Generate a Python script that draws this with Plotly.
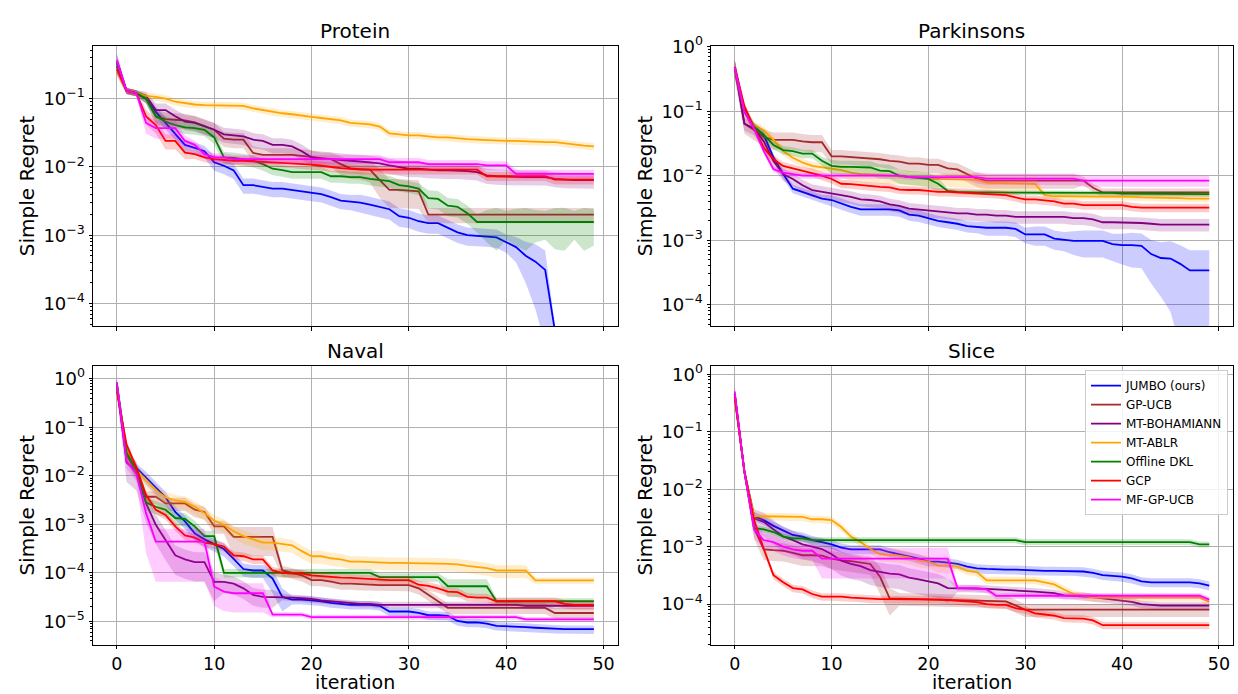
import plotly.graph_objects as go

# ---------------- data ----------------
ITERATIONS = list(range(50))
METHODS = ["JUMBO (ours)", "GP-UCB", "MT-BOHAMIANN", "MT-ABLR", "Offline DKL", "GCP", "MF-GP-UCB"]
COLORS = ["#0000ff", "#a52a2a", "#800080", "#ffa500", "#008000", "#ff0000", "#ff00ff"]
BAND_COLORS = ["rgba(0,0,255,0.2)", "rgba(165,42,42,0.2)", "rgba(128,0,128,0.2)", "rgba(255,165,0,0.2)",
               "rgba(0,128,0,0.2)", "rgba(255,0,0,0.2)", "rgba(255,0,255,0.2)"]
PANEL_TITLES = ["Protein", "Parkinsons", "Naval", "Slice"]
X_TICKS = [0, 10, 20, 30, 40, 50]

# ---- Protein: mean simple regret ----
protein_jumbo = [0.33, 0.13, 0.12, 0.10, 0.064, 0.044, 0.031, 0.021, 0.019, 0.017,
                 0.0117, 0.0104, 0.0089, 0.0054, 0.0054, 0.0051, 0.0048, 0.0048, 0.0046, 0.0044,
                 0.0042, 0.0040, 0.0036, 0.0032, 0.0031, 0.0030, 0.0028, 0.0026, 0.0024, 0.0019,
                 0.0018, 0.0016, 0.0015, 0.0015, 0.0013, 0.0011, 0.0010, 0.00098, 0.00097, 0.00093,
                 0.00079, 0.00067, 0.00050, 0.00041, 0.00031, 0.00004, None, None, None, None]
protein_gpucb = [0.30, 0.13, 0.12, 0.10, 0.055, 0.050, 0.049, 0.048, 0.045, 0.040,
                 0.035, 0.026, 0.025, 0.025, 0.016, 0.015, 0.015, 0.015, 0.015, 0.0145,
                 0.014, 0.0135, 0.013, 0.011, 0.0095, 0.0093, 0.0091, 0.0064, 0.0046, 0.0046,
                 0.0045, 0.0044, 0.0020, 0.0020, 0.0020, 0.0020, 0.0020, 0.0020, 0.0020, 0.0020,
                 0.0020, 0.0020, 0.0020, 0.0020, 0.0020, 0.0020, 0.0020, 0.0020, 0.0020, 0.0020]
protein_bohamiann = [0.36, 0.13, 0.12, 0.11, 0.068, 0.068, 0.055, 0.046, 0.044, 0.039,
                     0.035, 0.030, 0.029, 0.028, 0.025, 0.024, 0.021, 0.021, 0.020, 0.017,
                     0.0138, 0.013, 0.013, 0.0125, 0.0123, 0.0120, 0.0117, 0.0113, 0.0105, 0.0099,
                     0.0094, 0.0094, 0.0091, 0.0089, 0.0089, 0.0089, 0.0087, 0.0084, 0.0075, 0.0073,
                     0.0072, 0.0071, 0.0071, 0.0071, 0.0071, 0.0067, 0.0065, 0.0064, 0.0064, 0.0064]
protein_ablr = [0.27, 0.13, 0.12, 0.11, 0.106, 0.10, 0.090, 0.085, 0.082, 0.080,
                0.080, 0.080, 0.080, 0.078, 0.072, 0.068, 0.064, 0.061, 0.059, 0.056,
                0.054, 0.052, 0.050, 0.048, 0.044, 0.043, 0.042, 0.039, 0.031, 0.030,
                0.029, 0.029, 0.028, 0.027, 0.027, 0.026, 0.0255, 0.025, 0.0245, 0.024,
                0.024, 0.024, 0.0235, 0.023, 0.023, 0.023, 0.022, 0.021, 0.0205, 0.020]
protein_dkl = [0.30, 0.13, 0.12, 0.10, 0.055, 0.046, 0.041, 0.038, 0.037, 0.035,
               0.027, 0.0138, 0.0135, 0.013, 0.0123, 0.011, 0.0094, 0.0090, 0.0084, 0.0084,
               0.0084, 0.0084, 0.0073, 0.0073, 0.0071, 0.0071, 0.0067, 0.0064, 0.0062, 0.0054,
               0.0052, 0.0048, 0.0035, 0.0034, 0.0027, 0.0026, 0.0021, 0.00156, 0.00156, 0.00156,
               0.00156, 0.00156, 0.00156, 0.00156, 0.00156, 0.00156, 0.00156, 0.00156, 0.00156, 0.00156]
protein_gcp = [0.27, 0.13, 0.12, 0.055, 0.041, 0.024, 0.024, 0.0162, 0.0154, 0.0138,
               0.0130, 0.0125, 0.0123, 0.0123, 0.0121, 0.0120, 0.0118, 0.0116, 0.0113, 0.0110,
               0.0108, 0.0104, 0.0099, 0.0096, 0.0094, 0.0091, 0.0091, 0.0091, 0.0091, 0.0091,
               0.0091, 0.0091, 0.0091, 0.0091, 0.0091, 0.0091, 0.0091, 0.0091, 0.0073, 0.0073,
               0.0073, 0.0073, 0.0073, 0.0073, 0.0073, 0.0065, 0.0065, 0.0065, 0.0065, 0.0065]
protein_mfgp = [0.36, 0.13, 0.12, 0.044, 0.037, 0.037, 0.037, 0.024, 0.021, 0.0154,
                0.0138, 0.0138, 0.013, 0.013, 0.013, 0.013, 0.013, 0.013, 0.013, 0.013,
                0.013, 0.013, 0.013, 0.013, 0.013, 0.013, 0.013, 0.013, 0.0117, 0.0117,
                0.0117, 0.0117, 0.011, 0.011, 0.011, 0.011, 0.011, 0.011, 0.0105, 0.0105,
                0.0105, 0.0079, 0.0079, 0.0079, 0.0079, 0.0079, 0.0079, 0.0079, 0.0079, 0.0079]

# ---- Protein: relative spread of the shaded band ----
protein_jumbo_rsd = [0.30, 0.10, 0.10, 0.15, 0.20, 0.20, 0.20, 0.20, 0.20, 0.20,
                     0.25, 0.25, 0.25, 0.25, 0.25, 0.25, 0.25, 0.25, 0.25, 0.25,
                     0.25, 0.25, 0.25, 0.25, 0.25, 0.30, 0.30, 0.30, 0.30, 0.30,
                     0.30, 0.30, 0.30, 0.30, 0.30, 0.30, 0.30, 0.30, 0.30, 0.30,
                     0.30, 0.40, 0.60, 0.80, 0.92, 0.20, 0.0, 0.0, 0.0, 0.0]
protein_gpucb_rsd = [0.20, 0.10, 0.10, 0.15, 0.25, 0.25, 0.25, 0.25, 0.25, 0.25,
                     0.25, 0.25, 0.25, 0.25, 0.25, 0.25, 0.25, 0.25, 0.25, 0.25,
                     0.25, 0.25, 0.25, 0.30, 0.30, 0.30, 0.35, 0.45, 0.45, 0.45,
                     0.45, 0.45, 0.25, 0.25, 0.25, 0.25, 0.25, 0.25, 0.25, 0.25,
                     0.25, 0.25, 0.25, 0.25, 0.25, 0.25, 0.25, 0.25, 0.25, 0.25]
protein_bohamiann_rsd = [0.25, 0.10, 0.10, 0.15, 0.25, 0.25, 0.25, 0.25, 0.25, 0.25,
                         0.25, 0.25, 0.25, 0.25, 0.25, 0.25, 0.25, 0.25, 0.25, 0.25,
                         0.25, 0.25, 0.25, 0.25, 0.25, 0.25, 0.25, 0.25, 0.25, 0.25,
                         0.25, 0.25, 0.25, 0.25, 0.25, 0.25, 0.25, 0.25, 0.25, 0.25,
                         0.25, 0.25, 0.25, 0.25, 0.25, 0.25, 0.25, 0.25, 0.25, 0.25]
protein_ablr_rsd = [0.20, 0.10, 0.10, 0.12, 0.12, 0.12, 0.12, 0.12, 0.12, 0.12,
                    0.12, 0.12, 0.12, 0.12, 0.12, 0.12, 0.12, 0.12, 0.12, 0.12,
                    0.12, 0.12, 0.12, 0.12, 0.12, 0.12, 0.12, 0.12, 0.12, 0.12,
                    0.12, 0.12, 0.12, 0.12, 0.12, 0.12, 0.12, 0.12, 0.12, 0.12,
                    0.12, 0.12, 0.12, 0.12, 0.12, 0.12, 0.12, 0.12, 0.12, 0.12]
protein_dkl_rsd = [0.20, 0.10, 0.10, 0.15, 0.20, 0.20, 0.20, 0.20, 0.20, 0.20,
                   0.20, 0.20, 0.20, 0.20, 0.20, 0.20, 0.20, 0.20, 0.20, 0.20,
                   0.20, 0.20, 0.20, 0.20, 0.20, 0.20, 0.20, 0.20, 0.20, 0.20,
                   0.20, 0.20, 0.30, 0.30, 0.30, 0.30, 0.30, 0.30, 0.50, 0.62,
                   0.45, 0.55, 0.62, 0.50, 0.45, 0.60, 0.62, 0.45, 0.62, 0.55]
protein_gcp_rsd = [0.20, 0.10, 0.10, 0.25, 0.25, 0.25, 0.25, 0.20, 0.15, 0.15,
                   0.15, 0.15, 0.15, 0.15, 0.15, 0.15, 0.15, 0.15, 0.15, 0.15,
                   0.15, 0.15, 0.15, 0.15, 0.15, 0.15, 0.15, 0.15, 0.15, 0.15,
                   0.15, 0.15, 0.15, 0.15, 0.15, 0.15, 0.15, 0.15, 0.15, 0.15,
                   0.15, 0.15, 0.15, 0.15, 0.15, 0.15, 0.15, 0.15, 0.15, 0.15]
protein_mfgp_rsd = [0.30, 0.10, 0.10, 0.30, 0.30, 0.30, 0.30, 0.20, 0.15, 0.15,
                    0.15, 0.15, 0.15, 0.15, 0.15, 0.15, 0.15, 0.15, 0.15, 0.15,
                    0.15, 0.15, 0.15, 0.15, 0.15, 0.15, 0.15, 0.15, 0.15, 0.15,
                    0.15, 0.15, 0.15, 0.15, 0.15, 0.15, 0.15, 0.15, 0.15, 0.15,
                    0.15, 0.15, 0.15, 0.15, 0.15, 0.15, 0.15, 0.15, 0.15, 0.15]

# ---- Parkinsons: mean simple regret ----
parkinsons_jumbo = [0.48, 0.108, 0.057, 0.043, 0.019, 0.0106, 0.0063, 0.0056, 0.0050, 0.0044,
                    0.0042, 0.0037, 0.0033, 0.0030, 0.0030, 0.0030, 0.0030, 0.0029, 0.0025, 0.0024,
                    0.0022, 0.0020, 0.0019, 0.0018, 0.00165, 0.0016, 0.00156, 0.00156, 0.00156, 0.0015,
                    0.00123, 0.00123, 0.00123, 0.00106, 0.00101, 0.00098, 0.00098, 0.00098, 0.00098, 0.00087,
                    0.00084, 0.00084, 0.00082, 0.00061, 0.00053, 0.00052, 0.00043, 0.00034, 0.00034, 0.00034]
parkinsons_gpucb = [0.48, 0.064, 0.051, 0.040, 0.036, 0.036, 0.036, 0.034, 0.033, 0.033,
                    0.020, 0.020, 0.0195, 0.019, 0.0185, 0.018, 0.017, 0.0165, 0.0154, 0.0154,
                    0.0147, 0.0147, 0.013, 0.0125, 0.0106, 0.0089, 0.0084, 0.0084, 0.0084, 0.0084,
                    0.0084, 0.0084, 0.0084, 0.0084, 0.0084, 0.0084, 0.0084, 0.0065, 0.0055, 0.0055,
                    0.0055, 0.0055, 0.0055, 0.0055, 0.0055, 0.0055, 0.0055, 0.0055, 0.0055, 0.0055]
parkinsons_bohamiann = [0.48, 0.064, 0.054, 0.034, 0.0169, 0.0106, 0.0089, 0.0071, 0.0060, 0.0056,
                        0.0053, 0.0050, 0.0047, 0.0043, 0.0042, 0.0040, 0.0036, 0.0034, 0.0031, 0.0030,
                        0.00295, 0.0028, 0.0027, 0.0026, 0.0026, 0.0025, 0.0025, 0.0024, 0.0024, 0.0023,
                        0.0023, 0.0023, 0.0023, 0.0023, 0.0023, 0.0022, 0.0022, 0.0021, 0.0019, 0.0019,
                        0.0019, 0.0019, 0.00185, 0.0018, 0.00175, 0.00175, 0.00175, 0.00175, 0.00175, 0.00175]
parkinsons_ablr = [0.48, 0.10, 0.061, 0.051, 0.036, 0.024, 0.019, 0.016, 0.0142, 0.0134,
                   0.0126, 0.0122, 0.0112, 0.0106, 0.0104, 0.0103, 0.0100, 0.0098, 0.0095, 0.0093,
                   0.0089, 0.0089, 0.0089, 0.0089, 0.0087, 0.0086, 0.0078, 0.0077, 0.0076, 0.0075,
                   0.0075, 0.0075, 0.0050, 0.0048, 0.0048, 0.0048, 0.0048, 0.0048, 0.0048, 0.0048,
                   0.0047, 0.0047, 0.0046, 0.0046, 0.0045, 0.0045, 0.0045, 0.0044, 0.0044, 0.0044]
parkinsons_dkl = [0.48, 0.10, 0.057, 0.043, 0.030, 0.025, 0.024, 0.022, 0.022, 0.017,
                  0.0142, 0.0137, 0.0137, 0.0137, 0.0134, 0.0120, 0.0118, 0.0100, 0.0095, 0.0093,
                  0.0089, 0.0075, 0.0058, 0.0056, 0.0055, 0.0055, 0.0055, 0.0055, 0.0055, 0.0055,
                  0.0054, 0.0054, 0.0054, 0.0054, 0.0054, 0.0054, 0.0054, 0.0054, 0.0054, 0.0054,
                  0.0053, 0.0053, 0.0053, 0.0053, 0.0053, 0.0052, 0.0052, 0.0052, 0.0052, 0.0052]
parkinsons_gcp = [0.48, 0.12, 0.054, 0.027, 0.018, 0.0142, 0.0130, 0.0119, 0.0112, 0.0100,
                  0.0089, 0.0075, 0.0074, 0.0071, 0.0069, 0.0067, 0.0066, 0.0061, 0.0060, 0.0060,
                  0.0058, 0.0056, 0.0056, 0.0055, 0.0055, 0.0054, 0.0053, 0.0052, 0.0050, 0.0046,
                  0.0043, 0.0043, 0.0042, 0.0040, 0.0037, 0.0037, 0.0035, 0.0035, 0.0035, 0.0035,
                  0.0035, 0.0033, 0.0032, 0.0032, 0.0032, 0.0032, 0.0032, 0.0032, 0.0032, 0.0032]
parkinsons_mfgp = [0.48, 0.097, 0.054, 0.024, 0.0126, 0.0112, 0.0106, 0.0100, 0.0100, 0.0100,
                   0.0100, 0.0100, 0.0100, 0.0100, 0.0100, 0.0100, 0.0100, 0.0100, 0.0095, 0.0095,
                   0.0095, 0.0095, 0.0095, 0.0095, 0.0095, 0.0095, 0.0090, 0.0090, 0.0090, 0.0090,
                   0.0090, 0.0090, 0.0090, 0.0090, 0.0090, 0.0090, 0.0084, 0.0084, 0.0084, 0.0084,
                   0.0084, 0.0084, 0.0084, 0.0084, 0.0084, 0.0084, 0.0084, 0.0084, 0.0084, 0.0084]

parkinsons_jumbo_rsd = [0.30, 0.15, 0.15, 0.15, 0.15, 0.15, 0.15, 0.15, 0.15, 0.15,
                        0.20, 0.20, 0.20, 0.20, 0.20, 0.20, 0.20, 0.20, 0.20, 0.20,
                        0.20, 0.20, 0.20, 0.20, 0.20, 0.20, 0.25, 0.25, 0.25, 0.25,
                        0.27, 0.33, 0.33, 0.33, 0.33, 0.40, 0.45, 0.45, 0.45, 0.45,
                        0.50, 0.55, 0.55, 0.65, 0.75, 0.85, 0.95, 1.05, 1.05, 1.05]
parkinsons_gpucb_rsd = [0.30, 0.30, 0.30, 0.30, 0.30, 0.30, 0.30, 0.30, 0.30, 0.30,
                        0.25, 0.25, 0.25, 0.25, 0.25, 0.25, 0.25, 0.25, 0.25, 0.25,
                        0.25, 0.25, 0.25, 0.25, 0.25, 0.25, 0.25, 0.25, 0.25, 0.25,
                        0.25, 0.25, 0.25, 0.25, 0.25, 0.25, 0.15, 0.15, 0.15, 0.15,
                        0.15, 0.15, 0.15, 0.15, 0.15, 0.15, 0.15, 0.15, 0.15, 0.15]
parkinsons_bohamiann_rsd = [0.30, 0.22, 0.22, 0.22, 0.22, 0.22, 0.22, 0.22, 0.22, 0.22,
                            0.22, 0.22, 0.22, 0.22, 0.22, 0.22, 0.22, 0.22, 0.22, 0.22,
                            0.22, 0.22, 0.22, 0.22, 0.22, 0.22, 0.22, 0.22, 0.22, 0.22,
                            0.22, 0.22, 0.22, 0.22, 0.22, 0.22, 0.22, 0.22, 0.22, 0.22,
                            0.22, 0.22, 0.22, 0.22, 0.22, 0.22, 0.22, 0.22, 0.22, 0.22]
parkinsons_ablr_rsd = [0.30, 0.15, 0.15, 0.15, 0.15, 0.15, 0.15, 0.15, 0.15, 0.15,
                       0.15, 0.25, 0.25, 0.25, 0.25, 0.25, 0.25, 0.25, 0.25, 0.25,
                       0.25, 0.25, 0.25, 0.25, 0.25, 0.25, 0.25, 0.25, 0.25, 0.25,
                       0.25, 0.25, 0.12, 0.12, 0.12, 0.12, 0.12, 0.12, 0.12, 0.12,
                       0.12, 0.12, 0.12, 0.12, 0.12, 0.12, 0.12, 0.12, 0.12, 0.12]
parkinsons_dkl_rsd = [0.30, 0.15, 0.15, 0.15, 0.15, 0.15, 0.15, 0.15, 0.15, 0.15,
                      0.25, 0.25, 0.25, 0.25, 0.25, 0.25, 0.25, 0.25, 0.25, 0.25,
                      0.25, 0.25, 0.08, 0.08, 0.08, 0.08, 0.08, 0.08, 0.08, 0.08,
                      0.08, 0.08, 0.08, 0.08, 0.08, 0.08, 0.08, 0.08, 0.08, 0.08,
                      0.08, 0.08, 0.08, 0.08, 0.08, 0.08, 0.08, 0.08, 0.08, 0.08]
parkinsons_gcp_rsd = [0.30, 0.15, 0.15, 0.15, 0.15, 0.15, 0.15, 0.15, 0.15, 0.15,
                      0.15, 0.15, 0.15, 0.15, 0.15, 0.15, 0.15, 0.15, 0.15, 0.15,
                      0.15, 0.15, 0.15, 0.15, 0.15, 0.15, 0.15, 0.15, 0.15, 0.15,
                      0.15, 0.15, 0.15, 0.15, 0.15, 0.15, 0.15, 0.15, 0.15, 0.15,
                      0.15, 0.15, 0.15, 0.15, 0.15, 0.15, 0.15, 0.15, 0.15, 0.15]
parkinsons_mfgp_rsd = [0.30, 0.10, 0.10, 0.10, 0.10, 0.10, 0.10, 0.10, 0.10, 0.10,
                       0.10, 0.10, 0.10, 0.10, 0.10, 0.10, 0.10, 0.10, 0.10, 0.10,
                       0.10, 0.10, 0.10, 0.10, 0.10, 0.20, 0.20, 0.20, 0.20, 0.20,
                       0.20, 0.20, 0.20, 0.20, 0.20, 0.20, 0.20, 0.20, 0.20, 0.20,
                       0.20, 0.20, 0.20, 0.20, 0.20, 0.20, 0.20, 0.20, 0.20, 0.20]

# ---- Naval: mean simple regret ----
naval_jumbo = [0.80, 0.032, 0.0148, 0.0093, 0.0058, 0.0036, 0.0018, 0.00115, 0.00065, 0.00049,
               0.00039, 0.00031, 0.000195, 0.00012, 0.000112, 0.000112, 0.000076, 0.000032, 0.000028, 0.000028,
               0.000027, 0.000026, 0.000024, 0.000023, 0.000022, 0.000022, 0.000022, 0.000021, 0.000016, 0.000016,
               0.000016, 0.000015, 0.0000134, 0.0000134, 0.000013, 0.0000102, 0.0000095, 0.0000095, 0.000009, 0.0000081,
               0.000008, 0.0000078, 0.0000076, 0.0000074, 0.0000072, 0.000007, 0.0000069, 0.0000069, 0.0000069, 0.0000069]
naval_gpucb = [0.75, 0.027, 0.0118, 0.0037, 0.0037, 0.0027, 0.0027, 0.0027, 0.0020, 0.0018,
               0.00091, 0.00091, 0.00055, 0.00055, 0.00055, 0.00055, 0.00055, 0.000112, 0.000101, 0.000089,
               0.000071, 0.000071, 0.000066, 0.000060, 0.000060, 0.000058, 0.000056, 0.000056, 0.000056, 0.000056,
               0.000056, 0.000048, 0.000035, 0.000026, 0.000019, 0.000019, 0.000019, 0.000019, 0.000019, 0.000019,
               0.000019, 0.000019, 0.000019, 0.000019, 0.000019, 0.0000149, 0.0000149, 0.0000149, 0.0000149, 0.0000149]
naval_bohamiann = [0.70, 0.0187, 0.0125, 0.0027, 0.00098, 0.00046, 0.00023, 0.00019, 0.000166, 0.000166,
                   0.000065, 0.000065, 0.000060, 0.000048, 0.000035, 0.000032, 0.000032, 0.000032, 0.000031, 0.000030,
                   0.000029, 0.000027, 0.000026, 0.000025, 0.000024, 0.000023, 0.000023, 0.000022, 0.000022, 0.000022,
                   0.000022, 0.000022, 0.000022, 0.000022, 0.000022, 0.000022, 0.000022, 0.000022, 0.000022, 0.000022,
                   0.000022, 0.000022, 0.000021, 0.000021, 0.000021, 0.000021, 0.000021, 0.000021, 0.000021, 0.000021]
naval_ablr = [0.70, 0.035, 0.0126, 0.0080, 0.0050, 0.0036, 0.0031, 0.0029, 0.0023, 0.0017,
              0.0012, 0.00098, 0.00072, 0.00057, 0.00049, 0.00042, 0.00042, 0.00039, 0.00037, 0.00028,
              0.00022, 0.00022, 0.00020, 0.00019, 0.00017, 0.00017, 0.000165, 0.00016, 0.00016, 0.00016,
              0.00016, 0.000158, 0.000157, 0.000155, 0.000153, 0.00015, 0.00014, 0.00013, 0.000125, 0.000112,
              0.000112, 0.000112, 0.000112, 0.000070, 0.000070, 0.000070, 0.000070, 0.000070, 0.000070, 0.000070]
naval_dkl = [0.70, 0.030, 0.013, 0.0028, 0.0023, 0.0020, 0.00135, 0.0013, 0.00091, 0.00057,
             0.00057, 0.00010, 0.00010, 0.00010, 0.00010, 0.00010, 0.00010, 0.00010, 0.00010, 0.00010,
             0.00010, 0.00010, 0.00010, 0.00010, 0.00010, 0.00010, 0.00010, 0.000082, 0.000082, 0.000082,
             0.000082, 0.000082, 0.000082, 0.000082, 0.000053, 0.000053, 0.000053, 0.000053, 0.000053, 0.000026,
             0.000026, 0.000026, 0.000026, 0.000026, 0.000026, 0.000026, 0.000026, 0.000026, 0.000026, 0.000026]
naval_gcp = [0.55, 0.044, 0.0148, 0.0040, 0.0020, 0.00156, 0.00091, 0.00059, 0.00053, 0.00042,
             0.00039, 0.00035, 0.00023, 0.00022, 0.00019, 0.00019, 0.000112, 0.00010, 0.000097, 0.000097,
             0.000089, 0.000085, 0.000082, 0.000080, 0.000079, 0.000077, 0.000075, 0.000071, 0.000071, 0.000071,
             0.000071, 0.000057, 0.000054, 0.000048, 0.000041, 0.000040, 0.000032, 0.000031, 0.000031, 0.000026,
             0.000026, 0.000026, 0.000026, 0.000026, 0.000026, 0.000026, 0.000023, 0.000022, 0.000022, 0.000022]
naval_mfgp = [0.85, 0.020, 0.011, 0.0017, 0.00044, 0.00044, 0.00044, 0.00044, 0.00044, 0.00044,
              0.000052, 0.000041, 0.000038, 0.000038, 0.000038, 0.000038, 0.0000138, 0.0000138, 0.0000138, 0.0000138,
              0.0000123, 0.0000123, 0.0000123, 0.0000123, 0.0000123, 0.0000123, 0.0000123, 0.0000123, 0.0000123, 0.0000123,
              0.0000123, 0.0000123, 0.0000123, 0.0000123, 0.0000123, 0.0000123, 0.0000123, 0.0000123, 0.0000123, 0.0000123,
              0.0000123, 0.0000123, 0.000011, 0.000011, 0.000011, 0.000011, 0.000011, 0.000011, 0.000011, 0.000011]

naval_jumbo_rsd = [0.30, 0.20, 0.20, 0.30, 0.30, 0.30, 0.30, 0.30, 0.30, 0.30,
                   0.30, 0.30, 0.30, 0.30, 0.30, 0.30, 0.50, 0.50, 0.20, 0.20,
                   0.20, 0.20, 0.20, 0.20, 0.20, 0.20, 0.20, 0.20, 0.20, 0.20,
                   0.20, 0.20, 0.20, 0.20, 0.20, 0.20, 0.20, 0.20, 0.20, 0.20,
                   0.20, 0.20, 0.20, 0.20, 0.20, 0.20, 0.20, 0.20, 0.20, 0.20]
naval_gpucb_rsd = [0.30, 0.30, 0.30, 0.30, 0.30, 0.30, 0.30, 0.30, 0.30, 0.30,
                   0.30, 0.30, 0.60, 0.60, 0.60, 0.60, 0.60, 0.25, 0.25, 0.25,
                   0.25, 0.25, 0.25, 0.25, 0.25, 0.25, 0.25, 0.25, 0.25, 0.25,
                   0.25, 0.25, 0.25, 0.25, 0.25, 0.25, 0.25, 0.25, 0.25, 0.25,
                   0.25, 0.25, 0.25, 0.25, 0.25, 0.25, 0.25, 0.25, 0.25, 0.25]
naval_bohamiann_rsd = [0.30, 0.60, 0.60, 0.60, 0.60, 0.60, 0.60, 0.60, 0.60, 0.60,
                       0.60, 0.40, 0.40, 0.40, 0.40, 0.40, 0.40, 0.15, 0.15, 0.15,
                       0.15, 0.15, 0.15, 0.15, 0.15, 0.15, 0.15, 0.15, 0.15, 0.15,
                       0.15, 0.15, 0.15, 0.15, 0.15, 0.15, 0.15, 0.15, 0.15, 0.15,
                       0.15, 0.15, 0.15, 0.15, 0.15, 0.15, 0.15, 0.15, 0.15, 0.15]
naval_ablr_rsd = [0.30, 0.30, 0.30, 0.30, 0.30, 0.30, 0.30, 0.30, 0.30, 0.30,
                  0.30, 0.30, 0.30, 0.30, 0.30, 0.30, 0.30, 0.30, 0.30, 0.30,
                  0.30, 0.30, 0.30, 0.30, 0.30, 0.30, 0.30, 0.30, 0.30, 0.30,
                  0.30, 0.30, 0.30, 0.30, 0.30, 0.30, 0.30, 0.30, 0.30, 0.30,
                  0.30, 0.30, 0.30, 0.15, 0.15, 0.15, 0.15, 0.15, 0.15, 0.15]
naval_dkl_rsd = [0.30, 0.30, 0.30, 0.30, 0.30, 0.30, 0.30, 0.30, 0.30, 0.30,
                 0.30, 0.20, 0.20, 0.20, 0.20, 0.20, 0.20, 0.20, 0.20, 0.20,
                 0.20, 0.20, 0.20, 0.20, 0.20, 0.20, 0.20, 0.20, 0.20, 0.20,
                 0.20, 0.20, 0.20, 0.20, 0.40, 0.40, 0.40, 0.40, 0.40, 0.15,
                 0.15, 0.15, 0.15, 0.15, 0.15, 0.15, 0.15, 0.15, 0.15, 0.15]
naval_gcp_rsd = [0.30, 0.20, 0.20, 0.20, 0.20, 0.20, 0.20, 0.20, 0.20, 0.20,
                 0.20, 0.20, 0.20, 0.20, 0.20, 0.20, 0.20, 0.20, 0.20, 0.20,
                 0.20, 0.20, 0.20, 0.20, 0.20, 0.20, 0.20, 0.20, 0.20, 0.20,
                 0.20, 0.20, 0.20, 0.20, 0.20, 0.20, 0.20, 0.20, 0.20, 0.20,
                 0.20, 0.20, 0.20, 0.20, 0.20, 0.20, 0.20, 0.20, 0.20, 0.20]
naval_mfgp_rsd = [0.30, 0.30, 0.30, 0.85, 0.85, 0.85, 0.85, 0.85, 0.85, 0.85,
                  0.60, 0.60, 0.60, 0.60, 0.60, 0.60, 0.12, 0.12, 0.12, 0.12,
                  0.12, 0.12, 0.12, 0.12, 0.12, 0.12, 0.12, 0.12, 0.12, 0.12,
                  0.12, 0.12, 0.12, 0.12, 0.12, 0.12, 0.12, 0.12, 0.12, 0.12,
                  0.12, 0.12, 0.12, 0.12, 0.12, 0.12, 0.12, 0.12, 0.12, 0.12]

# ---- Slice: mean simple regret ----
slice_jumbo = [0.45, 0.020, 0.0034, 0.0029, 0.0023, 0.0019, 0.0016, 0.0015, 0.0013, 0.0012,
               0.0011, 0.00096, 0.0009, 0.0009, 0.0009, 0.0009, 0.0008, 0.00074, 0.00069, 0.00062,
               0.00055, 0.00055, 0.00053, 0.00050, 0.00045, 0.00042, 0.00041, 0.00040, 0.00040, 0.00040,
               0.00039, 0.00038, 0.00038, 0.00038, 0.00038, 0.00038, 0.00037, 0.00035, 0.00032, 0.00031,
               0.00030, 0.00028, 0.00025, 0.00024, 0.00024, 0.00024, 0.00024, 0.00024, 0.00023, 0.00021]
slice_gpucb = [0.40, 0.020, 0.0021, 0.0009, 0.00087, 0.00085, 0.00078, 0.00071, 0.00071, 0.00070,
               0.00062, 0.00058, 0.00056, 0.00053, 0.00050, 0.00030, 0.000126, 0.000125, 0.000124, 0.000122,
               0.00012, 0.00012, 0.000119, 0.000118, 0.000117, 0.000116, 0.000115, 0.000114, 0.000112, 0.000095,
               0.00008, 0.00008, 0.00008, 0.00008, 0.00008, 0.00008, 0.00008, 0.00008, 0.00008, 0.00008,
               0.00008, 0.00008, 0.00008, 0.00008, 0.00008, 0.00008, 0.00008, 0.00008, 0.00008, 0.00008]
slice_bohamiann = [0.45, 0.020, 0.0031, 0.0027, 0.0020, 0.0015, 0.0013, 0.0011, 0.0010, 0.00091,
                   0.00074, 0.00057, 0.00050, 0.00046, 0.00039, 0.00036, 0.00034, 0.00033, 0.00029, 0.00027,
                   0.00025, 0.00023, 0.00019, 0.00019, 0.00019, 0.00019, 0.000185, 0.00018, 0.000177, 0.000175,
                   0.00017, 0.000165, 0.00016, 0.000155, 0.000142, 0.00014, 0.000138, 0.000132, 0.000126, 0.00012,
                   0.000115, 0.00011, 0.00010, 0.000097, 0.000094, 0.000094, 0.000094, 0.000094, 0.000094, 0.000094]
slice_ablr = [0.40, 0.020, 0.0034, 0.0034, 0.0033, 0.0033, 0.0033, 0.0033, 0.0030, 0.0030,
              0.0029, 0.0022, 0.0015, 0.0012, 0.00091, 0.00074, 0.00072, 0.00070, 0.00065, 0.00058,
              0.00055, 0.00047, 0.00047, 0.00045, 0.00038, 0.00036, 0.00026, 0.00026, 0.00026, 0.00026,
              0.00026, 0.00026, 0.00024, 0.00022, 0.00018, 0.00015, 0.00014, 0.00013, 0.00013, 0.00013,
              0.00013, 0.00013, 0.00013, 0.00013, 0.00013, 0.00013, 0.00013, 0.00013, 0.00013, 0.00011]
slice_dkl = [0.45, 0.020, 0.0021, 0.0020, 0.0018, 0.0015, 0.0014, 0.0014, 0.0013, 0.0013,
             0.0013, 0.0013, 0.0013, 0.0013, 0.0013, 0.0013, 0.0013, 0.0013, 0.0013, 0.0013,
             0.0013, 0.0013, 0.0013, 0.0013, 0.0013, 0.0013, 0.0013, 0.0013, 0.0013, 0.0013,
             0.0012, 0.0012, 0.0012, 0.0012, 0.0012, 0.0012, 0.0012, 0.0012, 0.0012, 0.0012,
             0.0012, 0.0012, 0.0012, 0.0012, 0.0012, 0.0012, 0.0012, 0.0012, 0.0011, 0.0011]
slice_gcp = [0.40, 0.021, 0.0029, 0.00091, 0.00032, 0.00024, 0.00019, 0.00018, 0.00015, 0.000135,
             0.000135, 0.000135, 0.00013, 0.000127, 0.000122, 0.000122, 0.000122, 0.000122, 0.000122, 0.000122,
             0.00012, 0.00012, 0.000117, 0.000115, 0.00011, 0.000108, 0.00010, 0.000097, 0.000097, 0.000085,
             0.00008, 0.000069, 0.000066, 0.000063, 0.000057, 0.000056, 0.000056, 0.000052, 0.000043, 0.000043,
             0.000043, 0.000043, 0.000043, 0.000043, 0.000043, 0.000043, 0.000043, 0.000043, 0.000043, 0.000043]
slice_mfgp = [0.50, 0.020, 0.0020, 0.0013, 0.0012, 0.0010, 0.0009, 0.00085, 0.00085, 0.00062,
              0.00062, 0.00062, 0.00062, 0.00062, 0.00062, 0.00062, 0.00062, 0.00062, 0.00062, 0.00062,
              0.00062, 0.00062, 0.00062, 0.00019, 0.00019, 0.00019, 0.00018, 0.00014, 0.00014, 0.00014,
              0.00014, 0.00014, 0.00014, 0.00014, 0.00014, 0.00014, 0.00014, 0.00014, 0.00014, 0.00014,
              0.00014, 0.00014, 0.00014, 0.00014, 0.00014, 0.00014, 0.00014, 0.00014, 0.00014, 0.00012]

slice_jumbo_rsd = [0.30, 0.18, 0.18, 0.18, 0.18, 0.18, 0.18, 0.18, 0.18, 0.18,
                   0.18, 0.18, 0.18, 0.18, 0.18, 0.18, 0.18, 0.18, 0.18, 0.18,
                   0.18, 0.18, 0.18, 0.18, 0.18, 0.18, 0.18, 0.18, 0.18, 0.18,
                   0.18, 0.18, 0.18, 0.18, 0.18, 0.18, 0.18, 0.18, 0.18, 0.18,
                   0.18, 0.18, 0.18, 0.18, 0.18, 0.18, 0.18, 0.18, 0.18, 0.18]
slice_gpucb_rsd = [0.30, 0.20, 0.35, 0.35, 0.35, 0.35, 0.35, 0.35, 0.35, 0.35,
                   0.35, 0.35, 0.35, 0.35, 0.35, 0.50, 0.50, 0.25, 0.25, 0.25,
                   0.25, 0.25, 0.25, 0.25, 0.25, 0.25, 0.25, 0.25, 0.25, 0.25,
                   0.25, 0.25, 0.25, 0.25, 0.25, 0.25, 0.25, 0.25, 0.25, 0.25,
                   0.25, 0.25, 0.25, 0.25, 0.25, 0.25, 0.25, 0.25, 0.25, 0.25]
slice_bohamiann_rsd = [0.30, 0.20, 0.45, 0.45, 0.45, 0.45, 0.45, 0.45, 0.45, 0.45,
                       0.45, 0.45, 0.45, 0.45, 0.45, 0.45, 0.45, 0.45, 0.45, 0.45,
                       0.45, 0.45, 0.45, 0.15, 0.15, 0.15, 0.15, 0.15, 0.15, 0.15,
                       0.15, 0.15, 0.15, 0.15, 0.15, 0.15, 0.15, 0.15, 0.15, 0.15,
                       0.15, 0.15, 0.15, 0.15, 0.15, 0.15, 0.15, 0.15, 0.15, 0.15]
slice_ablr_rsd = [0.30, 0.15, 0.15, 0.15, 0.15, 0.15, 0.15, 0.15, 0.15, 0.15,
                  0.15, 0.15, 0.15, 0.15, 0.15, 0.25, 0.25, 0.25, 0.25, 0.25,
                  0.25, 0.25, 0.25, 0.15, 0.15, 0.15, 0.15, 0.15, 0.15, 0.15,
                  0.15, 0.15, 0.15, 0.15, 0.15, 0.15, 0.15, 0.15, 0.15, 0.15,
                  0.15, 0.15, 0.15, 0.15, 0.15, 0.15, 0.15, 0.15, 0.15, 0.15]
slice_dkl_rsd = [0.30, 0.12, 0.12, 0.12, 0.12, 0.12, 0.12, 0.12, 0.12, 0.12,
                 0.12, 0.12, 0.12, 0.12, 0.12, 0.12, 0.12, 0.12, 0.12, 0.12,
                 0.12, 0.12, 0.12, 0.12, 0.12, 0.12, 0.12, 0.12, 0.12, 0.12,
                 0.12, 0.12, 0.12, 0.12, 0.12, 0.12, 0.12, 0.12, 0.12, 0.12,
                 0.12, 0.12, 0.12, 0.12, 0.12, 0.12, 0.12, 0.12, 0.12, 0.12]
slice_gcp_rsd = [0.30, 0.15, 0.15, 0.15, 0.15, 0.15, 0.15, 0.15, 0.15, 0.15,
                 0.15, 0.15, 0.15, 0.15, 0.15, 0.15, 0.15, 0.15, 0.15, 0.15,
                 0.15, 0.15, 0.15, 0.15, 0.15, 0.15, 0.15, 0.15, 0.15, 0.15,
                 0.15, 0.15, 0.15, 0.15, 0.15, 0.15, 0.15, 0.15, 0.15, 0.15,
                 0.15, 0.15, 0.15, 0.15, 0.15, 0.15, 0.15, 0.15, 0.15, 0.15]
slice_mfgp_rsd = [0.30, 0.20, 0.30, 0.30, 0.30, 0.30, 0.30, 0.30, 0.30, 0.55,
                  0.55, 0.55, 0.55, 0.55, 0.55, 0.55, 0.55, 0.55, 0.55, 0.55,
                  0.55, 0.55, 0.55, 0.12, 0.12, 0.12, 0.12, 0.12, 0.12, 0.12,
                  0.12, 0.12, 0.12, 0.12, 0.12, 0.12, 0.12, 0.12, 0.12, 0.12,
                  0.12, 0.12, 0.12, 0.12, 0.12, 0.12, 0.12, 0.12, 0.12, 0.12]

PANEL_DATA = [
    [(protein_jumbo, protein_jumbo_rsd), (protein_gpucb, protein_gpucb_rsd),
     (protein_bohamiann, protein_bohamiann_rsd), (protein_ablr, protein_ablr_rsd),
     (protein_dkl, protein_dkl_rsd), (protein_gcp, protein_gcp_rsd), (protein_mfgp, protein_mfgp_rsd)],
    [(parkinsons_jumbo, parkinsons_jumbo_rsd), (parkinsons_gpucb, parkinsons_gpucb_rsd),
     (parkinsons_bohamiann, parkinsons_bohamiann_rsd), (parkinsons_ablr, parkinsons_ablr_rsd),
     (parkinsons_dkl, parkinsons_dkl_rsd), (parkinsons_gcp, parkinsons_gcp_rsd), (parkinsons_mfgp, parkinsons_mfgp_rsd)],
    [(naval_jumbo, naval_jumbo_rsd), (naval_gpucb, naval_gpucb_rsd),
     (naval_bohamiann, naval_bohamiann_rsd), (naval_ablr, naval_ablr_rsd),
     (naval_dkl, naval_dkl_rsd), (naval_gcp, naval_gcp_rsd), (naval_mfgp, naval_mfgp_rsd)],
    [(slice_jumbo, slice_jumbo_rsd), (slice_gpucb, slice_gpucb_rsd),
     (slice_bohamiann, slice_bohamiann_rsd), (slice_ablr, slice_ablr_rsd),
     (slice_dkl, slice_dkl_rsd), (slice_gcp, slice_gcp_rsd), (slice_mfgp, slice_mfgp_rsd)],
]

# ---------------- layout geometry (pixels of the 1238x694 page) ----------------
W, H = 1238, 694
FONT = "DejaVu Sans"
PANEL_BOX = [  # (left, right, top, bottom) in page px
    (93, 617.7, 34, 319),
    (711, 1233, 34, 319),
    (93, 617.7, 360, 644),
    (711, 1233, 360, 644),
]
Y_RANGES = [(-4.33, -0.235), (-4.33, 0.005), (-5.485, 0.257), (-4.71, 0.14)]
Y_DECADES = [[-4, -3, -2, -1], [-4, -3, -2, -1, 0], [-5, -4, -3, -2, -1, 0], [-4, -3, -2, -1, 0]]


def fx(p):
    return p / W


def fy(p):
    return 1 - p / H


def band_polygon(mean, rsd):
    xs, up, lo = [], [], []
    for i, (m, r) in enumerate(zip(mean, rsd)):
        if m is None:
            continue
        xs.append(ITERATIONS[i])
        up.append(m * (1 + r))
        lo.append(max(m * (1 - r), 1e-12))
    return xs + xs[::-1], up + lo[::-1]


fig = go.Figure()

for k in range(4):
    ax = "" if k == 0 else str(k + 1)
    for j, (mean, rsd) in enumerate(PANEL_DATA[k]):
        bx, by = band_polygon(mean, rsd)
        fig.add_trace(go.Scatter(x=bx, y=by, xaxis="x" + ax, yaxis="y" + ax, mode="lines",
                                 fill="toself", fillcolor=BAND_COLORS[j], line=dict(width=0),
                                 hoverinfo="skip", showlegend=False))
        fig.add_trace(go.Scatter(x=ITERATIONS, y=mean, xaxis="x" + ax, yaxis="y" + ax, mode="lines",
                                 line=dict(color=COLORS[j], width=1.8), name=METHODS[j],
                                 showlegend=(k == 3), connectgaps=False))

annotations = []
for k in range(4):
    ax = "" if k == 0 else str(k + 1)
    l, r, t, b = PANEL_BOX[k]
    bottom_row = k >= 2
    fig.layout["xaxis" + ax] = dict(
        domain=[fx(l), fx(r)], anchor="y" + ax, range=[-2.45, 51.45],
        tickmode="array", tickvals=X_TICKS, showticklabels=bottom_row,
        ticks="outside", ticklen=3.5, tickwidth=1, tickcolor="black",
        showgrid=True, gridcolor="#b0b0b0", gridwidth=1, zeroline=False,
        showline=True, linecolor="black", linewidth=1, mirror=True,
        tickfont=dict(family=FONT, size=17.5, color="black"),
    )
    decs = Y_DECADES[k]
    minor_vals = [m * 10.0 ** d for d in range(decs[0] - 1, decs[-1] + 1) for m in range(2, 10)]
    fig.layout["yaxis" + ax] = dict(
        domain=[fy(b), fy(t)], anchor="x" + ax, type="log", range=list(Y_RANGES[k]),
        tickmode="array", tickvals=[10.0 ** d for d in decs],
        ticktext=["10<sup>" + ("\u2212" if d < 0 else "") + str(abs(d)) + "</sup>" for d in decs],
        ticks="outside", ticklen=3.5, tickwidth=1, tickcolor="black",
        minor=dict(tickmode="array", tickvals=minor_vals, ticks="outside", ticklen=2,
                   tickcolor="black", showgrid=False),
        showgrid=True, gridcolor="#b0b0b0", gridwidth=1, zeroline=False,
        showline=True, linecolor="black", linewidth=1, mirror=True,
        tickfont=dict(family=FONT, size=18, color="black"),
    )
    cx = (l + r) / 2
    annotations.append(dict(text=PANEL_TITLES[k], x=fx(cx), y=fy(t - 16), xref="paper", yref="paper",
                            xanchor="center", yanchor="middle", showarrow=False,
                            font=dict(family=FONT, size=20, color="black")))
    annotations.append(dict(text="Simple Regret", x=fx(l - 66), y=fy((t + b) / 2), xref="paper", yref="paper",
                            xanchor="center", yanchor="middle", showarrow=False, textangle=-90,
                            font=dict(family=FONT, size=20, color="black")))
    if bottom_row:
        annotations.append(dict(text="iteration", x=fx(cx), y=fy(682), xref="paper", yref="paper",
                                xanchor="center", yanchor="middle", showarrow=False,
                                font=dict(family=FONT, size=19, color="black")))

fig.update_layout(
    width=W, height=H, autosize=False,
    margin=dict(l=0, r=0, t=0, b=0, pad=0),
    paper_bgcolor="white", plot_bgcolor="white",
    font=dict(family=FONT, color="black"),
    annotations=annotations,
    legend=dict(x=fx(1085), y=fy(364), xanchor="left", yanchor="top",
                bgcolor="rgba(255,255,255,0.85)", bordercolor="#cccccc", borderwidth=1,
                font=dict(family=FONT, size=12, color="black"), tracegroupgap=0, itemwidth=30),
)

# Let the figure sit flush at the page's top-left corner (no default body margin), no mode bar.
fig.write_html("out.html",
               config={"displayModeBar": False},
               post_script="document.body.style.margin='0px';document.body.style.overflow='hidden';")
